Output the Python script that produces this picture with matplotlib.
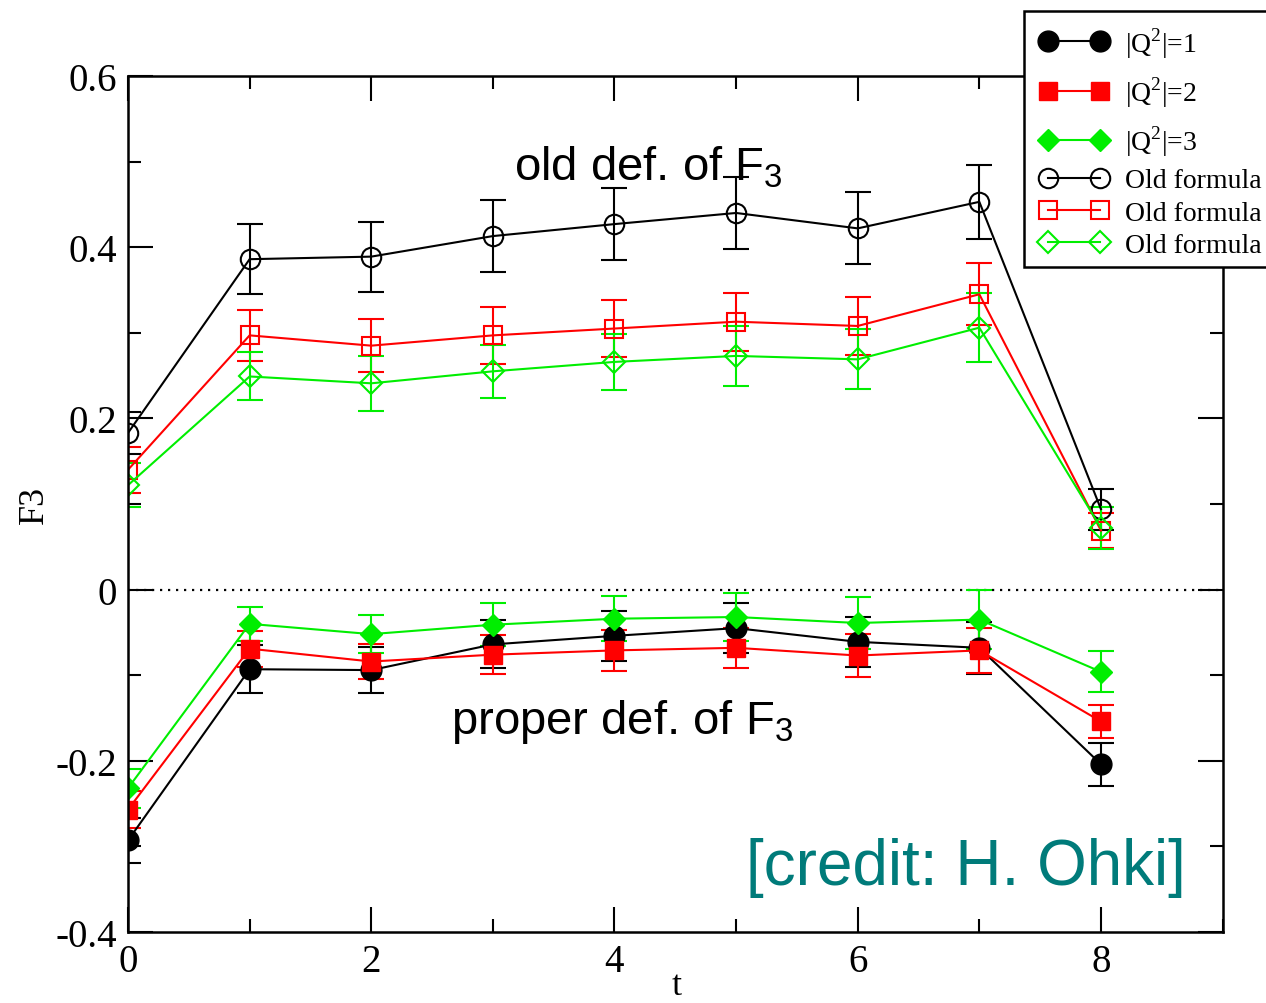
import numpy as np
import matplotlib
matplotlib.use('Agg')
import matplotlib.pyplot as plt
from matplotlib.ticker import MultipleLocator
from matplotlib.lines import Line2D
from matplotlib.patches import Rectangle

plt.rcParams['font.family'] = 'Liberation Serif'
plt.rcParams['mathtext.fontset'] = 'custom'
plt.rcParams['mathtext.rm'] = 'Liberation Serif'
plt.rcParams['mathtext.sf'] = 'Liberation Sans'

# --- Data ---
t = [0, 1, 2, 3, 4, 5, 6, 7, 8]

# proper definition of F3
q1_val = [-0.293, -0.093, -0.094, -0.064, -0.054, -0.045, -0.061, -0.068, -0.204]
q1_err = [0.026, 0.028, 0.027, 0.028, 0.029, 0.029, 0.029, 0.030, 0.025]
q2_val = [-0.257, -0.069, -0.084, -0.076, -0.071, -0.068, -0.077, -0.071, -0.154]
q2_err = [0.022, 0.021, 0.021, 0.023, 0.024, 0.023, 0.025, 0.026, 0.019]
q3_val = [-0.232, -0.040, -0.052, -0.041, -0.034, -0.032, -0.039, -0.035, -0.096]
q3_err = [0.023, 0.020, 0.022, 0.025, 0.026, 0.028, 0.030, 0.034, 0.024]

# old formula
old1_val = [0.183, 0.386, 0.389, 0.413, 0.427, 0.440, 0.422, 0.453, 0.094]
old1_err = [0.024, 0.041, 0.041, 0.042, 0.042, 0.042, 0.042, 0.043, 0.024]
old2_val = [0.140, 0.297, 0.285, 0.297, 0.305, 0.313, 0.308, 0.345, 0.069]
old2_err = [0.027, 0.030, 0.031, 0.033, 0.033, 0.034, 0.034, 0.036, 0.020]
old3_val = [0.122, 0.249, 0.241, 0.255, 0.266, 0.273, 0.269, 0.306, 0.072]
old3_err = [0.026, 0.028, 0.032, 0.031, 0.033, 0.035, 0.035, 0.040, 0.025]

q_labels = [r'|Q$^{2}$|=1', r'|Q$^{2}$|=2', r'|Q$^{2}$|=3']
old_labels = ['Old formula', 'Old formula', 'Old formula']

x_ticks = [0, 2, 4, 6, 8]
y_ticks = [-0.4, -0.2, 0, 0.2, 0.4, 0.6]
y_tick_labels = ['-0.4', '-0.2', '0', '0.2', '0.4', '0.6']

GREEN = '#00ee00'
TEAL = '#007b7a'
W, H = 1266, 1004

# series styles: (color, marker, markersize)
styles = [('black', 'o', 15), ('red', 's', 13.5), (GREEN, 'D', 11.5)]
old_styles = [('black', 'o', 14), ('red', 's', 13), (GREEN, 'D', 11.5)]

fig = plt.figure(figsize=(W / 100, H / 100), dpi=100)
ax = fig.add_axes([0.1011, 0.0707, 0.8646, 0.8526])

ax.axhline(0, color='black', lw=1.6, ls=(0, (1, 2.6)), zorder=1)

common = dict(lw=1.5, elinewidth=1.5, capsize=9.4, capthick=1.5)

for (c, m, ms), v, e in zip(styles, [q1_val, q2_val, q3_val],
                            [q1_err, q2_err, q3_err]):
    ax.errorbar(t, v, yerr=e, color=c, marker=m, ms=ms, **common)

for (c, m, ms), v, e in zip(old_styles, [old1_val, old2_val, old3_val],
                            [old1_err, old2_err, old3_err]):
    ax.errorbar(t, v, yerr=e, color=c, marker=m, ms=ms, mfc='none', mew=1.5,
                **common)

ax.set_xlim(0, 9)
ax.set_ylim(-0.4, 0.6)
ax.set_xticks(x_ticks)
ax.xaxis.set_minor_locator(MultipleLocator(1))
ax.set_yticks(y_ticks)
ax.set_yticklabels(y_tick_labels)
ax.yaxis.set_minor_locator(MultipleLocator(0.1))
ax.tick_params(which='both', direction='in', top=True, right=True,
               labelsize=28, width=1.5)
ax.tick_params(which='major', length=18, pad=8)
ax.tick_params(which='minor', length=9.5)
for s in ax.spines.values():
    s.set_linewidth(1.8)

ax.set_xlabel('t', fontsize=26, va='top')
ax.xaxis.set_label_coords(0.501, -0.043)
ax.set_ylabel('F3', fontsize=26, va='center')
ax.yaxis.set_label_coords(-0.085, 0.5)

ax.text(4.28, 0.494, r'old def. of F$_{\mathsf{3}}$', family='Liberation Sans',
        fontsize=34, ha='center', va='center')
ax.text(4.06, -0.154, r'proper def. of F$_{\mathsf{3}}$', family='Liberation Sans',
        fontsize=34, ha='center', va='center')
ax.text(6.89, -0.324, '[credit: H. Ohki]', family='Liberation Sans',
        fontsize=46, color=TEAL, ha='center', va='center')

# legend: white framed box at the top right, covering the axes corner,
# with two groups of entries that have their own row spacing
fig.patches.append(Rectangle((1024 / W, 1 - 268 / H), 300 / W, 256 / H,
                             transform=fig.transFigure, facecolor='white',
                             edgecolor='black', lw=1.8, zorder=4.9))

q_handles = [Line2D([], [], color=c, marker=m, ms=ms, lw=1.5)
             for c, m, ms in styles]
old_handles = [Line2D([], [], color=c, marker=m, ms=ms, lw=1.5,
                      mfc='none', mew=1.5) for c, m, ms in old_styles]

leg_kw = dict(loc='upper left', numpoints=2, fontsize=20, frameon=False,
              handlelength=2.47, handletextpad=0.59, borderpad=0,
              borderaxespad=0)
leg_q = fig.legend(q_handles, q_labels, bbox_to_anchor=(1040 / W, 1 - 26 / H),
                   labelspacing=0.52, **leg_kw)
leg_old = fig.legend(old_handles, old_labels,
                     bbox_to_anchor=(1040 / W, 1 - 169 / H),
                     labelspacing=0.25, **leg_kw)
leg_q.set_zorder(5)
leg_old.set_zorder(5)

fig.savefig('out.png', dpi=100)
